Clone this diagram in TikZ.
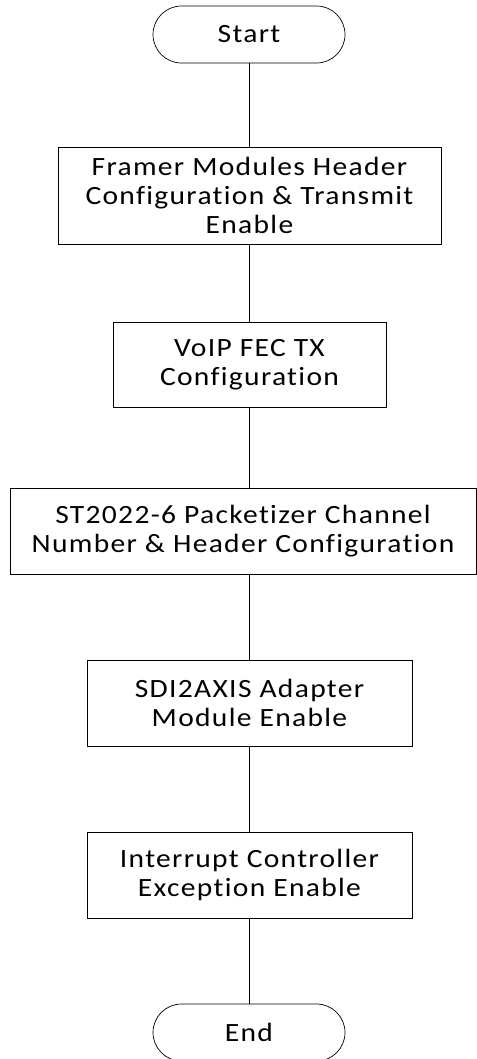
\documentclass[tikz,border=0pt]{standalone}
\usepackage{fontspec}
\setmainfont{Carlito}[Ligatures=NoCommon, FakeStretch=1.12, LetterSpace=5]
\usepackage{tikz}
\usetikzlibrary{positioning,calc}

\begin{document}
\begin{tikzpicture}[
    terminal/.style={rectangle, rounded corners=0.57cm, minimum width=3.84cm, minimum height=1.14cm, text centered, draw=black, font=\fontsize{15}{16.5}\selectfont},
    process/.style={rectangle, minimum height=1.72cm, text centered, draw=black, align=center, font=\fontsize{15}{16.5}\selectfont, inner sep=2pt},
    line/.style={thin}
]
    \useasboundingbox (0, 0) rectangle (9.54, -21.18);

    \node[terminal] (start) at (4.98, -0.69) {Start};
    \node[process, minimum width=7.66cm, minimum height=1.94cm] (framer) at (4.99, -3.91) {Framer Modules Header\\Configuration \& Transmit\\Enable};
    \node[process, minimum width=5.46cm, minimum height=1.70cm] (voip) at (4.99, -7.29) {VoIP FEC TX\\Configuration};
    \node[process, minimum width=9.32cm] (packet) at (4.86, -10.62) {ST2022-6 Packetizer Channel\\Number \& Header Configuration};
    \node[process, minimum width=6.50cm] (sdi) at (4.99, -14.06) {SDI2AXIS Adapter\\Module Enable};
    \node[process, minimum width=6.50cm] (intr) at (4.99, -17.50) {Interrupt Controller\\Exception Enable};
    \node[terminal] (end) at (4.98, -20.65) {End};

    % Straight connectors down the centre line, no tips
    \draw[line] (start.south) -- (start.south |- framer.north);
    \draw[line] (framer.south -| start.south) -- (start.south |- voip.north);
    \draw[line] (voip.south -| start.south) -- (start.south |- packet.north);
    \draw[line] (packet.south -| start.south) -- (start.south |- sdi.north);
    \draw[line] (sdi.south -| start.south) -- (start.south |- intr.north);
    \draw[line] (intr.south -| start.south) -- (end.north);

\end{tikzpicture}
\end{document}
